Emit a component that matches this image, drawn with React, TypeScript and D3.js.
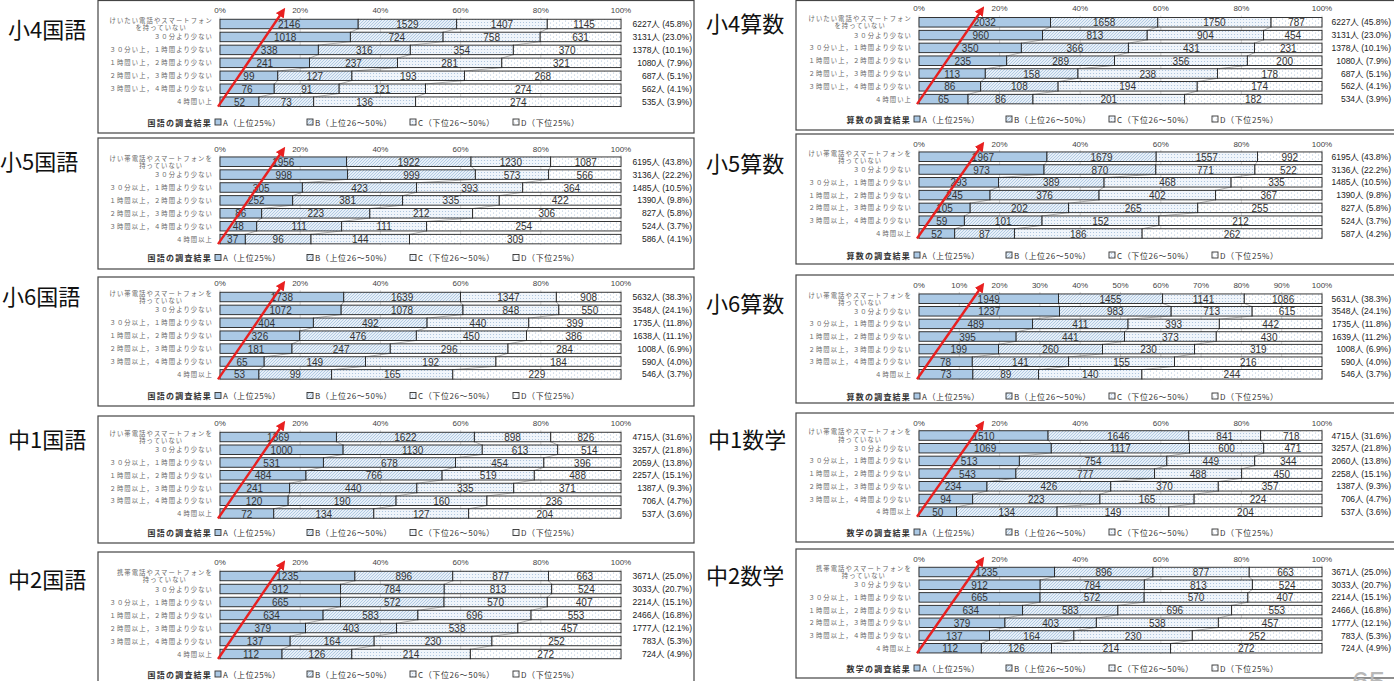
import React from "react";
import * as d3 from "d3";

// ---------- DATA ----------
const levelLabels = ["A（上位25%）", "B（上位26～50%）", "C（下位26～50%）", "D（下位25%）"];

const rowLabelsSho4 = [
  ["けいたい電話やスマートフォン", "を持っていない"],
  ["３０分より少ない"],
  ["３０分い上，１時間より少ない"],
  ["１時間い上，２時間より少ない"],
  ["２時間い上，３時間より少ない"],
  ["３時間い上，４時間より少ない"],
  ["４時間い上"],
];
const rowLabelsKeitai = [
  ["けい帯電話やスマートフォンを", "持っていない"],
  ["３０分より少ない"],
  ["３０分以上，１時間より少ない"],
  ["１時間以上，２時間より少ない"],
  ["２時間以上，３時間より少ない"],
  ["３時間以上，４時間より少ない"],
  ["４時間以上"],
];
const rowLabelsChu2 = [
  ["携帯電話やスマートフォンを", "持っていない"],
  ["３０分より少ない"],
  ["３０分以上，１時間より少ない"],
  ["１時間以上，２時間より少ない"],
  ["２時間以上，３時間より少ない"],
  ["３時間以上，４時間より少ない"],
  ["４時間以上"],
];

const ticks20 = [0, 20, 40, 60, 80, 100];
const ticks10 = [0, 10, 20, 30, 40, 50, 60, 70, 80, 90, 100];

const sho4Kokugo = [
  [2146, 1529, 1407, 1145],
  [1018, 724, 758, 631],
  [338, 316, 354, 370],
  [241, 237, 281, 321],
  [99, 127, 193, 268],
  [76, 91, 121, 274],
  [52, 73, 136, 274],
];
const sho4Sansu = [
  [2032, 1658, 1750, 787],
  [960, 813, 904, 454],
  [350, 366, 431, 231],
  [235, 289, 356, 200],
  [113, 158, 238, 178],
  [86, 108, 194, 174],
  [65, 86, 201, 182],
];
const sho5Kokugo = [
  [1956, 1922, 1230, 1087],
  [998, 999, 573, 566],
  [305, 423, 393, 364],
  [252, 381, 335, 422],
  [86, 223, 212, 306],
  [48, 111, 111, 254],
  [37, 96, 144, 309],
];
const sho5Sansu = [
  [1967, 1679, 1557, 992],
  [973, 870, 771, 522],
  [293, 389, 468, 335],
  [245, 376, 402, 367],
  [105, 202, 265, 255],
  [59, 101, 152, 212],
  [52, 87, 186, 262],
];
const sho6Kokugo = [
  [1738, 1639, 1347, 908],
  [1072, 1078, 848, 550],
  [404, 492, 440, 399],
  [326, 476, 450, 386],
  [181, 247, 296, 284],
  [65, 149, 192, 184],
  [53, 99, 165, 229],
];
const sho6Sansu = [
  [1949, 1455, 1141, 1086],
  [1237, 983, 713, 615],
  [489, 411, 393, 442],
  [395, 441, 373, 430],
  [199, 260, 230, 319],
  [78, 141, 155, 216],
  [73, 89, 140, 244],
];
const chu1Kokugo = [
  [1369, 1622, 898, 826],
  [1000, 1130, 613, 514],
  [531, 678, 454, 396],
  [484, 766, 519, 488],
  [241, 440, 335, 371],
  [120, 190, 160, 236],
  [72, 134, 127, 204],
];
const chu1Sugaku = [
  [1510, 1646, 841, 718],
  [1069, 1117, 600, 471],
  [513, 754, 449, 344],
  [543, 777, 488, 450],
  [234, 426, 370, 357],
  [94, 223, 165, 224],
  [50, 134, 149, 204],
];
const chu2Kokugo = [
  [1235, 896, 877, 663],
  [912, 784, 813, 524],
  [665, 572, 570, 407],
  [634, 583, 696, 553],
  [379, 403, 538, 457],
  [137, 164, 230, 252],
  [112, 126, 214, 272],
];
const chu2Sugaku = [
  [1235, 896, 877, 663],
  [912, 784, 813, 524],
  [665, 572, 570, 407],
  [634, 583, 696, 553],
  [379, 403, 538, 457],
  [137, 164, 230, 252],
  [112, 126, 214, 272],
];

// ---------- LAYOUT ----------
const columns = [
  { boxX0: 98, boxX1: 694, plotX0: 220, plotX1: 621, labelRight: 213, totalRight: 692 },
  { boxX0: 796, boxX1: 1400, plotX0: 919, plotX1: 1322, labelRight: 912, totalRight: 1391 },
];

const panels = [
  { title: "小4国語", subject: "国語の調査結果", data: sho4Kokugo, labels: rowLabelsSho4, ticks: ticks20, col: 0, boxY0: 0.5, boxY1: 133, tx: 8, ty: 28, axisY: 10, row0: 24, step: 12.95, legendY: 122 },
  { title: "小5国語", subject: "国語の調査結果", data: sho5Kokugo, labels: rowLabelsKeitai, ticks: ticks20, col: 0, boxY0: 138, boxY1: 269, tx: 0, ty: 160, axisY: 149, row0: 161.7, step: 12.9, legendY: 257.5 },
  { title: "小6国語", subject: "国語の調査結果", data: sho6Kokugo, labels: rowLabelsKeitai, ticks: ticks20, col: 0, boxY0: 277, boxY1: 406, tx: 2, ty: 295, axisY: 283, row0: 297, step: 12.9, legendY: 395.5 },
  { title: "中1国語", subject: "国語の調査結果", data: chu1Kokugo, labels: rowLabelsKeitai, ticks: ticks20, col: 0, boxY0: 416, boxY1: 543, tx: 8, ty: 438, axisY: 423, row0: 437, step: 12.75, legendY: 532.5 },
  { title: "中2国語", subject: "国語の調査結果", data: chu2Kokugo, labels: rowLabelsChu2, ticks: ticks20, col: 0, boxY0: 552, boxY1: 700, tx: 8, ty: 578, axisY: 562.5, row0: 576, step: 13, legendY: 674 },
  { title: "小4算数", subject: "算数の調査結果", data: sho4Sansu, labels: rowLabelsSho4, ticks: ticks20, col: 1, boxY0: 0.5, boxY1: 130, tx: 706, ty: 22, axisY: 8.5, row0: 22.3, step: 12.8, legendY: 119 },
  { title: "小5算数", subject: "算数の調査結果", data: sho5Sansu, labels: rowLabelsKeitai, ticks: ticks20, col: 1, boxY0: 134, boxY1: 264, tx: 706, ty: 162, axisY: 144, row0: 156.7, step: 12.8, legendY: 255 },
  { title: "小6算数", subject: "算数の調査結果", data: sho6Sansu, labels: rowLabelsKeitai, ticks: ticks10, col: 1, boxY0: 275, boxY1: 403, tx: 706, ty: 302, axisY: 285, row0: 298.7, step: 12.6, legendY: 396 },
  { title: "中1数学", subject: "数学の調査結果", data: chu1Sugaku, labels: rowLabelsKeitai, ticks: ticks20, col: 1, boxY0: 413, boxY1: 542, tx: 708, ty: 438, axisY: 423, row0: 435.5, step: 12.7, legendY: 532 },
  { title: "中2数学", subject: "数学の調査結果", data: chu2Sugaku, labels: rowLabelsChu2, ticks: ticks20, col: 1, boxY0: 549, boxY1: 678, tx: 706, ty: 574, axisY: 559, row0: 572, step: 12.7, legendY: 668 },
];

const fills = ["url(#patA)", "url(#patB)", "url(#patC)", "url(#patD)"];
const legendOffsets = [-5, 87, 190, 293];
const BH = 9.5;
const numFont = "'Liberation Sans', Arial, 'Noto Sans CJK JP', sans-serif";
const jpFont = "'Noto Sans CJK JP', 'Noto Sans', sans-serif";

function Panel({ p }: { p: any }) {
  const c = columns[p.col];
  const x = d3.scaleLinear().domain([0, 1]).range([c.plotX0, c.plotX1]);
  const rows = p.data.map((vals: number[], i: number) => {
    const total = d3.sum(vals);
    const cum = Array.from(d3.cumsum(vals));
    const segs = vals.map((v, k) => ({ k, v, s: (cum[k] - v) / total, e: cum[k] / total }));
    return { i, y: p.row0 + i * p.step, total, segs };
  });
  const grand = d3.sum(rows, (r: any) => r.total);
  const last = rows[rows.length - 1];
  const gTop = p.row0 - BH / 2 - 2;
  const gBot = last.y + BH / 2 + 1;
  const ax0 = c.plotX0 - 2, ay0 = last.y + 5;
  const ax1 = c.plotX0 + 63, ay1 = p.axisY + 1;

  return (
    <g>
      <rect x={c.boxX0} y={p.boxY0} width={c.boxX1 - c.boxX0} height={p.boxY1 - p.boxY0} fill="#fff" stroke="#444" strokeWidth={1.2} />
      <text x={p.tx} y={p.ty} fontFamily={jpFont} fontSize={22} fill="#111" dominantBaseline="central">{p.title}</text>
      {p.ticks.map((t: number) => (
        <g key={t}>
          <line x1={x(t / 100)} x2={x(t / 100)} y1={gTop} y2={gBot} stroke="#c8c8c8" strokeWidth={0.8} />
          <text x={x(t / 100)} y={p.axisY} fontFamily={numFont} fontSize={8} fill="#444" textAnchor="middle" dominantBaseline="central">{t}%</text>
        </g>
      ))}
      {rows.slice(0, -1).map((r: any, i: number) =>
        [0, 1, 2].map((k) => (
          <line key={`s${i}-${k}`} x1={x(r.segs[k].e)} y1={r.y + BH / 2} x2={x(rows[i + 1].segs[k].e)} y2={rows[i + 1].y - BH / 2} stroke="#999" strokeWidth={0.8} />
        ))
      )}
      {rows.map((r: any) => (
        <g key={r.i}>
          {r.segs.map((s: any) => (
            <rect key={s.k} x={x(s.s)} y={r.y - BH / 2} width={x(s.e) - x(s.s)} height={BH} fill={fills[s.k]} stroke="#222" strokeWidth={0.9} />
          ))}
          {r.segs.map((s: any) => (
            <text key={"t" + s.k} x={(x(s.s) + x(s.e)) / 2} y={r.y + 0.5} fontFamily={numFont} fontSize={10} fill="#333" textAnchor="middle" dominantBaseline="central">{s.v}</text>
          ))}
          <text x={c.totalRight} y={r.y} fontFamily={numFont} fontSize={8.5} fill="#222" textAnchor="end" dominantBaseline="central">
            {`${r.total}人 (${((r.total / grand) * 100).toFixed(1)}%)`}
          </text>
        </g>
      ))}
      {rows.map((r: any) => {
        const lab = p.labels[r.i];
        if (lab.length === 2) {
          const w = lab[0].length * 7.4;
          const cx = c.labelRight - w / 2;
          return (
            <g key={"l" + r.i}>
              <text x={cx} y={r.y - 3.6} fontFamily={jpFont} fontSize={6.3} letterSpacing={1.1} fill="#666" textAnchor="middle" dominantBaseline="central">{lab[0]}</text>
              <text x={cx} y={r.y + 3.6} fontFamily={jpFont} fontSize={6.3} letterSpacing={1.1} fill="#666" textAnchor="middle" dominantBaseline="central">{lab[1]}</text>
            </g>
          );
        }
        return (
          <text key={"l" + r.i} x={c.labelRight} y={r.y} fontFamily={jpFont} fontSize={6.3} letterSpacing={1.1} fill="#666" textAnchor="end" dominantBaseline="central">{lab[0]}</text>
        );
      })}
      <text x={c.plotX0 + legendOffsets[0] - 3} y={p.legendY} fontFamily={jpFont} fontSize={8} fontWeight={700} letterSpacing={1.2} fill="#333" textAnchor="end" dominantBaseline="central">{p.subject}</text>
      {levelLabels.map((l, k) => (
        <g key={"lg" + k}>
          <rect x={c.plotX0 + legendOffsets[k]} y={p.legendY - 3} width={6} height={6} fill={fills[k]} stroke="#333" strokeWidth={0.9} />
          <text x={c.plotX0 + legendOffsets[k] + 8} y={p.legendY} fontFamily={jpFont} fontSize={8} letterSpacing={0.6} fill="#333" dominantBaseline="central">{l}</text>
        </g>
      ))}
      <line x1={ax0} y1={ay0} x2={ax1} y2={ay1} stroke="#e82020" strokeWidth={2.4} markerEnd="url(#arrowHead)" />
    </g>
  );
}

export default function App() {
  return (
    <svg width={1394} height={681} style={{ position: "absolute", left: 0, top: 0, background: "#fff" }}>
      <defs>
        <pattern id="patA" width={4} height={4} patternUnits="userSpaceOnUse">
          <rect width={4} height={4} fill="#abc9e5" />
        </pattern>
        <pattern id="patB" width={3} height={3} patternUnits="userSpaceOnUse">
          <rect width={3} height={3} fill="#e6eff8" />
          <path d="M-1,1 L1,-1 M0,3 L3,0 M2,4 L4,2" stroke="#9cbad8" strokeWidth={0.7} />
        </pattern>
        <pattern id="patC" width={3} height={3} patternUnits="userSpaceOnUse">
          <rect width={3} height={3} fill="#f0f5fb" />
          <circle cx={1.5} cy={1.5} r={0.55} fill="#a5bfda" />
        </pattern>
        <pattern id="patD" width={6} height={4} patternUnits="userSpaceOnUse">
          <rect width={6} height={4} fill="#ffffff" />
          <circle cx={1.5} cy={1} r={0.55} fill="#a9c0d9" />
          <circle cx={4.5} cy={3} r={0.55} fill="#a9c0d9" />
        </pattern>
        <marker id="arrowHead" viewBox="0 0 10 10" refX={6} refY={5} markerWidth={4} markerHeight={4} orient="auto" markerUnits="strokeWidth">
          <path d="M0,0 L10,5 L0,10 z" fill="#e82020" />
        </marker>
      </defs>
      <rect width={1394} height={681} fill="#fff" />
      {panels.map((p) => (
        <Panel key={p.title} p={p} />
      ))}
      <text x={1352} y={692} fontFamily={numFont} fontSize={30} fill="#b8b8b8">65</text>
    </svg>
  );
}
